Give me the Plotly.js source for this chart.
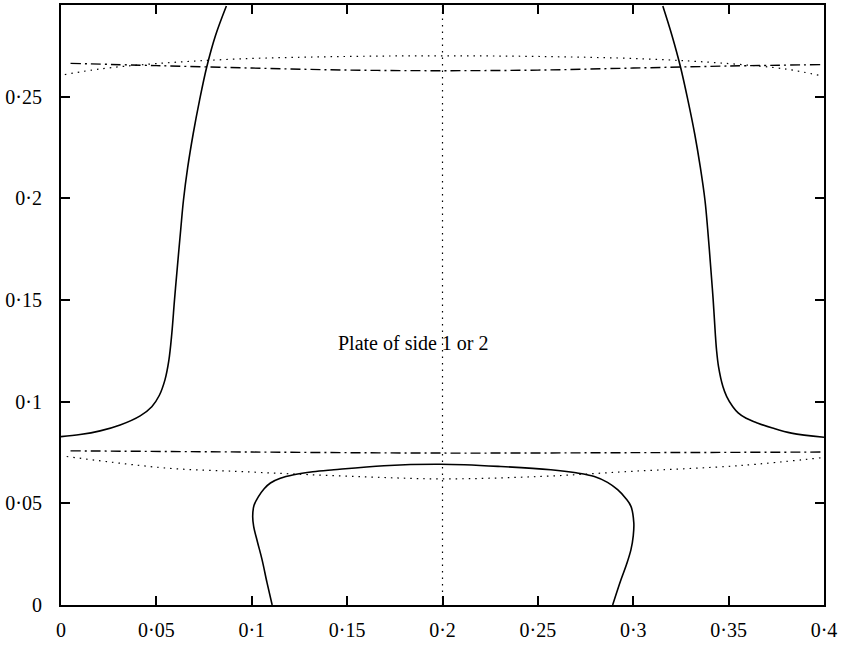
<!DOCTYPE html>
<html>
<head>
<meta charset="utf-8">
<script src="https://cdn.plot.ly/plotly-3.0.1.min.js"></script>
<style>html,body{margin:0;padding:0;background:#fff;}#chart{width:841px;height:645px;}</style>
</head>
<body>
<div id="chart"></div>
<script>
// Left solid branch
const leftX = [0, 0.0100, 0.0205, 0.0310, 0.0415, 0.0476, 0.0515, 0.0545, 0.0565, 0.0581, 0.0595, 0.0610, 0.0628, 0.0642, 0.0664, 0.0693, 0.0726, 0.0764, 0.0810, 0.0867];
const leftY = [0.0828, 0.0838, 0.0856, 0.0885, 0.0930, 0.0975, 0.1030, 0.1107, 0.1200, 0.1336, 0.1500, 0.1662, 0.1850, 0.1990, 0.2150, 0.2317, 0.2480, 0.2645, 0.2800, 0.2945];
// Right solid branch
const rightX = [0.4, 0.3829, 0.3730, 0.3654, 0.3592, 0.3550, 0.3522, 0.3490, 0.3470, 0.3447, 0.3437, 0.3430, 0.3419, 0.3406, 0.3390, 0.3376, 0.3352, 0.3322, 0.3287, 0.3248, 0.3203, 0.3155];
const rightY = [0.0825, 0.0845, 0.0870, 0.0894, 0.0918, 0.0945, 0.0975, 0.1025, 0.1074, 0.1172, 0.1250, 0.1336, 0.1500, 0.1662, 0.1850, 0.1990, 0.2150, 0.2317, 0.2480, 0.2644, 0.2800, 0.2945];
// Bottom closed loop
const loopX = [0.1107, 0.1080, 0.1054, 0.1030, 0.1010, 0.1005, 0.1012, 0.1036, 0.1065, 0.1098, 0.1150, 0.1220, 0.1320, 0.1430, 0.1693, 0.1990, 0.2306, 0.2568, 0.2700, 0.2796, 0.2865, 0.2918, 0.2960, 0.2988, 0.3003, 0.3000, 0.2988, 0.2965, 0.2936, 0.2892];
const loopY = [0, 0.0110, 0.0223, 0.0310, 0.0387, 0.0436, 0.0490, 0.0534, 0.0572, 0.0600, 0.0623, 0.0640, 0.0655, 0.0665, 0.0685, 0.0692, 0.0681, 0.0665, 0.0650, 0.0632, 0.0603, 0.0567, 0.0525, 0.0485, 0.0403, 0.0340, 0.0272, 0.0200, 0.0125, 0];
// Upper dash-dot
const upDashX = [0.005, 0.05, 0.1, 0.15, 0.2, 0.25, 0.3, 0.35, 0.4];
const upDashY = [0.2663, 0.2652, 0.2640, 0.2630, 0.2627, 0.2630, 0.2640, 0.2650, 0.2657];
// Upper dotted
const upDotX = [0.002, 0.02, 0.05, 0.094, 0.15, 0.2, 0.25, 0.306, 0.35, 0.38, 0.398];
const upDotY = [0.2608, 0.2635, 0.2662, 0.2685, 0.2697, 0.2700, 0.2697, 0.2685, 0.2662, 0.2635, 0.2603];
// Lower dash-dot
const lowDashX = [0.005, 0.1, 0.2, 0.3, 0.4];
const lowDashY = [0.0758, 0.0752, 0.0747, 0.0749, 0.0752];
// Lower dotted
const lowDotX = [0.003, 0.0555, 0.0923, 0.12, 0.16, 0.2, 0.2516, 0.2988, 0.3566, 0.3995];
const lowDotY = [0.0730, 0.0673, 0.0657, 0.0645, 0.0630, 0.0620, 0.0632, 0.0657, 0.0686, 0.0725];
// Vertical dotted line at x = 0.2
const vertX = [0.2, 0.2];
const vertY = [0, 0.295];
// Ticks
const xTickVals = [0, 0.05, 0.1, 0.15, 0.2, 0.25, 0.3, 0.35, 0.4];
const xTickText = ['0', '0·05', '0·1', '0·15', '0·2', '0·25', '0·3', '0·35', '0·4'];
const yTickVals = [0, 0.05, 0.1, 0.15, 0.2, 0.25];
const yTickText = ['0', '0·05', '0·1', '0·15', '0·2', '0·25'];
const labelText = 'Plate of side 1 or 2';

const serif = "'Liberation Serif', 'Times New Roman', Times, serif";
const solid = {color: '#000', width: 1.6, shape: 'spline', smoothing: 1};
const dashdot = {color: '#000', width: 1.4, dash: '10px,4px,2px,4px', shape: 'spline'};
const dotted = {color: '#000', width: 1.2, dash: '1.5px,5px', shape: 'spline'};
const traces = [
  {x: leftX, y: leftY, mode: 'lines', line: solid},
  {x: rightX, y: rightY, mode: 'lines', line: solid},
  {x: loopX, y: loopY, mode: 'lines', line: solid},
  {x: upDashX, y: upDashY, mode: 'lines', line: dashdot},
  {x: upDotX, y: upDotY, mode: 'lines', line: dotted},
  {x: lowDashX, y: lowDashY, mode: 'lines', line: dashdot},
  {x: lowDotX, y: lowDotY, mode: 'lines', line: dotted},
  {x: vertX, y: vertY, mode: 'lines', line: {color: '#000', width: 1.2, dash: '1.5px,5px'}}
];
const axisCommon = {
  showgrid: false, zeroline: false, showline: true, linecolor: '#000', linewidth: 2,
  mirror: 'allticks', ticks: 'inside', ticklen: 9, tickwidth: 2, tickcolor: '#000',
  tickmode: 'array', tickfont: {family: serif, size: 20, color: '#000'}
};
const layout = {
  width: 841, height: 645,
  margin: {l: 61, r: 17, t: 5, b: 40},
  paper_bgcolor: '#fff', plot_bgcolor: '#fff',
  showlegend: false,
  font: {family: serif},
  xaxis: Object.assign({}, axisCommon, {range: [0, 0.4], tickvals: xTickVals, ticktext: xTickText, ticklabelstandoff: 6}),
  yaxis: Object.assign({}, axisCommon, {range: [0, 0.295], tickvals: yTickVals, ticktext: yTickText, ticklabelstandoff: 13}),
  annotations: [{x: 0.185, y: 0.1288, xref: 'x', yref: 'y', text: labelText, showarrow: false,
    font: {family: serif, size: 20, color: '#000'}}]
};
Plotly.newPlot('chart', traces, layout, {staticPlot: true});
</script>
</body>
</html>
